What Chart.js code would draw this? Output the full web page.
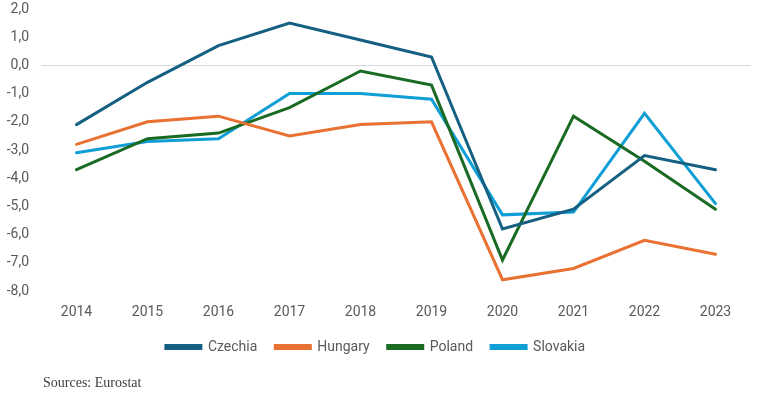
<!DOCTYPE html>
<html lang="en">
<head>
    <meta charset="UTF-8">
    <script src="https://cdn.jsdelivr.net/npm/chart.js"></script>
    <title>Budget balance</title>
    <style>
        body { margin: 0; background: #fff; }
        .wrap { position: relative; width: 763px; height: 397px; }
        .fonte { position: absolute; left: 43px; top: 375px; font-family: "Liberation Serif", serif; font-size: 14px; color: #404040; }
    </style>
</head>
<body>
    <div class="wrap">
        <canvas id="grafico" width="763" height="397"></canvas>
        <div class="fonte">Sources: Eurostat</div>
    </div>
<script>
    // dados
    var anos = ['2014', '2015', '2016', '2017', '2018', '2019', '2020', '2021', '2022', '2023'];
    var czechia  = [-2.1, -0.6, 0.7, 1.5, 0.9, 0.3, -5.8, -5.1, -3.2, -3.7];
    var hungary  = [-2.8, -2.0, -1.8, -2.5, -2.1, -2.0, -7.6, -7.2, -6.2, -6.7];
    var poland   = [-3.7, -2.6, -2.4, -1.5, -0.2, -0.7, -6.9, -1.8, -3.4, -5.1];
    var slovakia = [-3.1, -2.7, -2.6, -1.0, -1.0, -1.2, -5.3, -5.2, -1.7, -4.9];

    function serie(nome, dados, cor) {
        return {
            label: nome,
            data: dados,
            borderColor: cor,
            backgroundColor: cor,
            borderWidth: 3,
            pointRadius: 0,
            tension: 0,
            borderCapStyle: 'round',
            borderJoinStyle: 'miter'
        };
    }

    var fonte = { family: 'Roboto', size: 14 };

    new Chart(document.getElementById('grafico').getContext('2d'), {
        type: 'line',
        data: {
            labels: anos,
            datasets: [
                serie('Czechia', czechia, '#156082'),
                serie('Hungary', hungary, '#E97132'),
                serie('Poland', poland, '#196B24'),
                serie('Slovakia', slovakia, '#0F9ED5')
            ]
        },
        options: {
            responsive: false,
            animation: false,
            layout: { padding: { top: 9, bottom: 33, left: 0, right: 12 } },
            plugins: {
                tooltip: { enabled: false },
                legend: {
                    position: 'bottom',
                    labels: {
                        boxWidth: 35,
                        boxHeight: 3,
                        padding: 18,
                        color: '#595959',
                        font: fonte
                    }
                }
            },
            scales: {
                x: {
                    offset: true,
                    afterFit: function (s) { s.height = 31; },
                    grid: { display: false },
                    border: { display: false },
                    ticks: { color: '#595959', font: fonte, padding: 5, maxRotation: 0 }
                },
                y: {
                    min: -8,
                    max: 2,
                    afterFit: function (s) { s.width = 41; s.paddingTop = 0; },
                    border: { display: false },
                    grid: {
                        drawTicks: false,
                        color: function (c) { return c.tick && c.tick.value === 0 ? '#d9d9d9' : 'rgba(0,0,0,0)'; }
                    },
                    ticks: {
                        stepSize: 1,
                        padding: 12,
                        color: '#595959',
                        font: { family: 'Roboto', size: 14, lineHeight: 1 },
                        callback: function (v) { return v.toFixed(1).replace('.', ','); }
                    }
                }
            }
        }
    });
</script>
</body>
</html>
